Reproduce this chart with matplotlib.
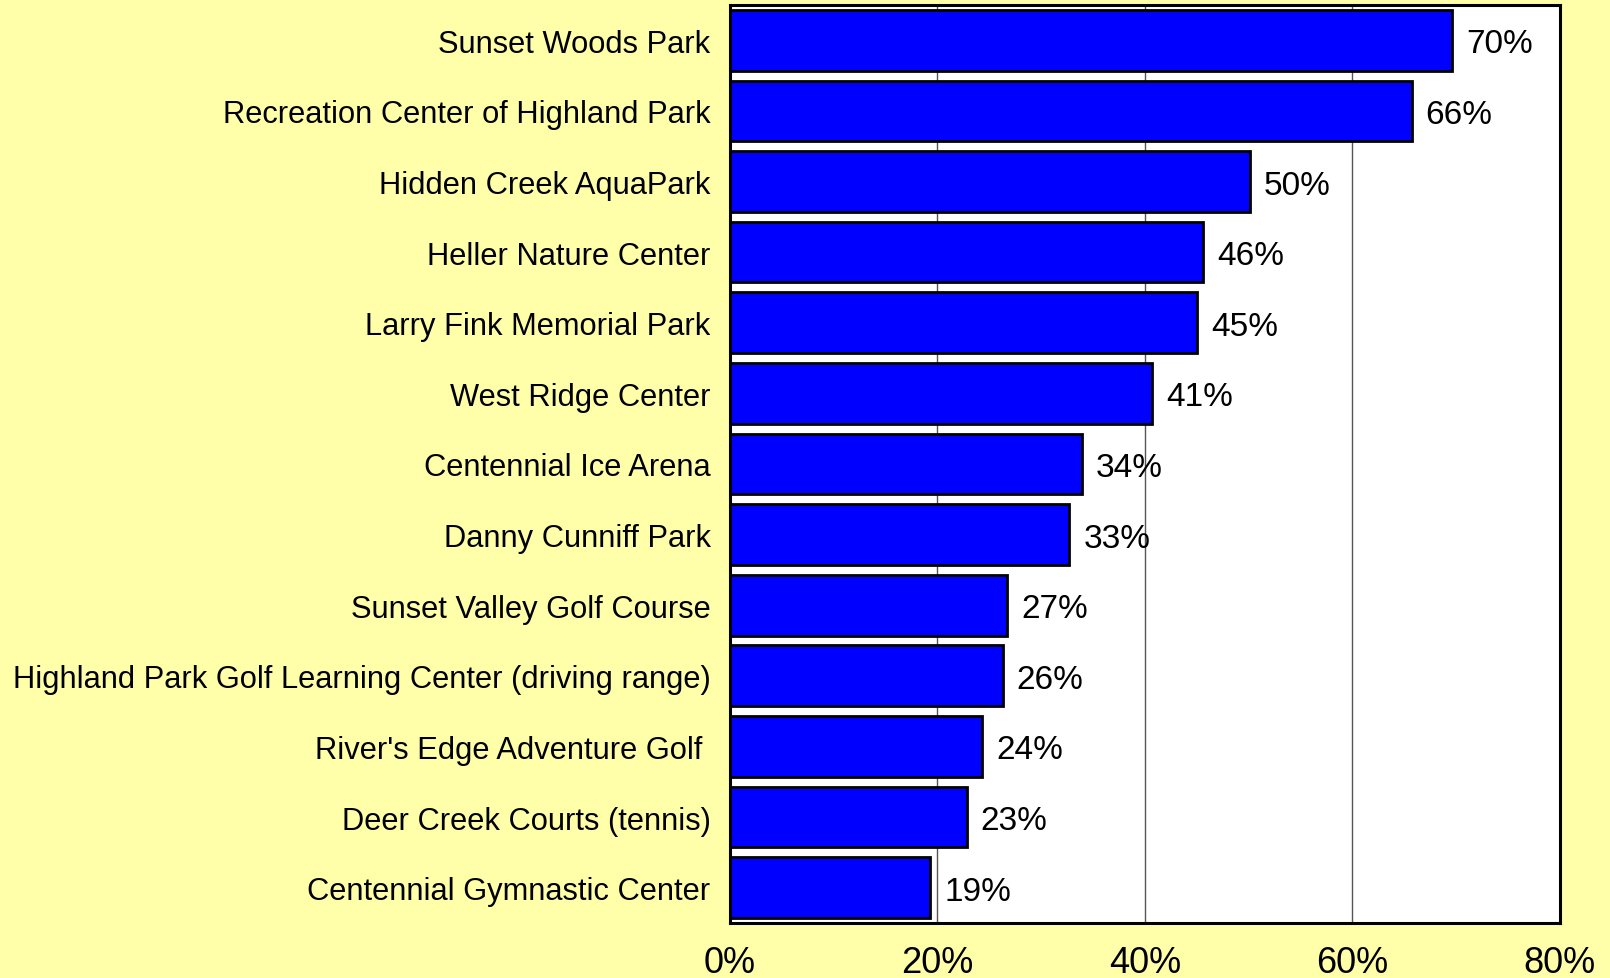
import matplotlib
matplotlib.use("Agg")
import matplotlib.pyplot as plt

# facilities, top to bottom as in the chart
facilities = [
    "Sunset Woods Park",
    "Recreation Center of Highland Park",
    "Hidden Creek AquaPark",
    "Heller Nature Center",
    "Larry Fink Memorial Park",
    "West Ridge Center",
    "Centennial Ice Arena",
    "Danny Cunniff Park",
    "Sunset Valley Golf Course",
    "Highland Park Golf Learning Center (driving range)",
    "River's Edge Adventure Golf ",
    "Deer Creek Courts (tennis)",
    "Centennial Gymnastic Center",
]
share = [69.6, 65.7, 50.1, 45.6, 45.0, 40.7, 33.9, 32.7, 26.7, 26.3, 24.3, 22.8, 19.3]
xticks = [0, 20, 40, 60, 80]

BG = "#FFFFAA"
FONT = ["Liberation Sans", "DejaVu Sans"]

fig = plt.figure(figsize=(16.1, 9.79), dpi=100, facecolor=BG)
ax = fig.add_axes([0.4534, 0.0562, 0.5155, 0.9377])
ax.set_facecolor("white")

ypos = list(range(len(facilities)))
ax.barh(ypos, share, height=0.86, color="#0000FF", edgecolor="black",
        linewidth=2, zorder=3)
for y, v in zip(ypos, share):
    ax.text(v + 1.35, y, f"{v:.0f}%", va="center_baseline", ha="left",
            fontsize=24, family=FONT, zorder=4)

ax.set_xlim(0, 80)
ax.set_ylim(len(facilities) - 0.5, -0.5)
ax.set_yticks(ypos)
ax.set_yticklabels(facilities, fontsize=22.2, family=FONT)
ax.set_xticks(xticks)
ax.set_xticklabels([f"{t}%" for t in xticks], fontsize=26, family=FONT)
ax.tick_params(axis="y", length=0, pad=14)
ax.tick_params(axis="x", length=0, pad=16)
ax.xaxis.grid(True, color="#555555", linewidth=1, zorder=1)
ax.set_axisbelow(True)
for s in ax.spines.values():
    s.set_linewidth(2.2)
    s.set_color("black")

fig.savefig("out.png", dpi=100, facecolor=BG)
